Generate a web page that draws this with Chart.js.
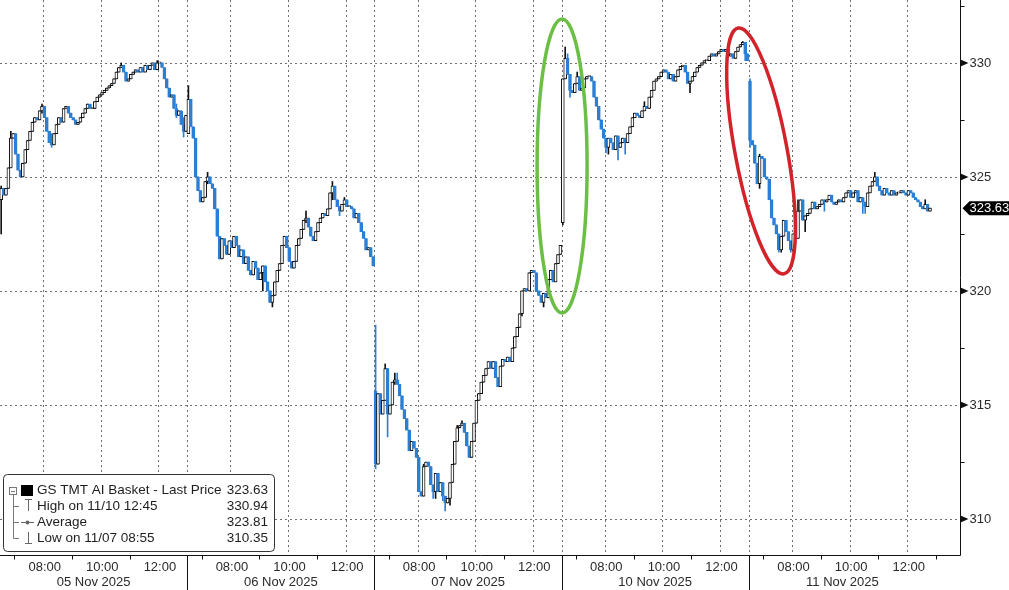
<!DOCTYPE html>
<html>
<head>
<meta charset="utf-8">
<script src="https://cdn.jsdelivr.net/npm/chart.js@4.4.0/dist/chart.umd.min.js"></script>
<style>
  html, body { margin: 0; padding: 0; background: #fff; }
  #wrap { position: relative; width: 1009px; height: 590px; }
</style>
</head>
<body>
<div id="wrap"><canvas id="chart"></canvas></div>
<script>
// 5-minute bars, 06:30-13:00 each session (78 bars)
const days = ["05 Nov 2025", "06 Nov 2025", "07 Nov 2025", "10 Nov 2025", "11 Nov 2025"]
const barsPerDay = 78
const totalSlots = 400

const timeLabels = ["08:00", "10:00", "12:00"]
const timeLabelBars = [18, 42, 66]
const oddHourBars = [6, 30, 54, 78]

const yTicks = [310, 315, 320, 325, 330]
const yMinorTicks = [312.5, 317.5, 322.5, 327.5, 332.5]
const lastPrice = 323.63

const dayOpen = [324.0, 326.9, 315.6, 323.0, 329.2]

const nov05Close = [
  324.5, 324.2, 324.5, 325.4, 326.7, 326.9, 326.0, 325.3, 325.0, 325.6,
  326.2, 326.6, 327.0, 327.4, 327.6, 327.5, 327.9, 328.1, 327.6, 327.0,
  326.5, 326.4, 326.9, 327.3, 327.6, 327.4, 328.0, 328.1, 327.8, 327.6,
  327.5, 327.3, 327.4, 327.6, 327.8, 328.0, 328.2, 328.0, 328.0, 328.3,
  328.5, 328.6, 328.7, 328.8, 328.9, 329.0, 329.1, 329.3, 329.6, 329.8,
  329.9, 329.6, 329.2, 329.3, 329.5, 329.6, 329.7, 329.6, 329.8, 329.6,
  329.9, 329.7, 329.9, 330.0, 329.7, 330.0, 330.0, 329.8, 329.3, 328.9,
  328.5, 328.6, 328.0, 327.7, 327.9, 327.3, 327.0, 327.7
]
const nov06Close = [
  328.4, 327.2, 326.7, 325.0, 324.4, 323.9, 324.1, 324.8, 325.0, 324.7,
  324.5, 323.6, 322.4, 321.4, 322.3, 322.0, 321.6, 322.2, 321.9, 322.4,
  322.0, 321.5, 321.8, 321.2, 321.5, 320.9, 320.7, 321.3, 321.0, 320.5,
  320.8, 321.1, 320.4, 320.0, 319.5, 319.8, 320.4, 320.9, 321.2, 322.0,
  322.4, 321.9, 321.3, 321.0, 321.3, 322.0, 322.3, 322.7, 323.1, 323.2,
  322.8, 322.4, 322.2, 322.6, 323.0, 323.2, 323.4, 323.3, 323.6, 324.3,
  324.6, 324.0, 323.7, 323.5, 323.8, 324.0, 323.7, 323.7, 323.6, 323.2,
  323.4, 323.0, 322.6, 322.3, 321.8, 321.9, 321.5, 321.1
]
const nov07Close = [
  312.4, 315.5, 314.6, 315.2, 316.6, 314.6, 315.0, 316.0, 316.1, 315.9,
  315.4, 314.8, 314.4, 313.9, 313.0, 313.4, 313.1, 312.7, 311.2, 311.0,
  312.3, 312.5, 312.3, 311.5, 311.2, 312.0, 311.2, 311.6, 311.0, 310.7,
  310.9, 311.6, 312.4, 313.4, 314.0, 314.1, 314.2, 313.8, 313.2, 312.7,
  313.4, 314.2, 315.2, 315.5, 316.0, 316.3, 316.6, 316.9, 316.6, 316.9,
  316.2, 315.8, 316.7, 317.0, 316.9, 317.1, 316.9, 317.5, 318.0, 318.4,
  319.0, 320.0, 320.1, 320.0, 320.8, 320.9, 320.8, 320.0, 319.8, 319.5,
  319.9, 319.7, 320.5, 320.9, 320.4, 321.2, 321.6, 322.0
]
const nov10Close = [
  329.3, 330.2, 329.5, 328.8, 328.7, 329.1, 329.4, 328.8, 328.9, 329.3,
  329.4, 329.4, 329.2, 328.5, 328.1, 327.5, 327.1, 326.7, 326.3, 326.7,
  326.5, 326.2, 326.8, 326.3, 326.5, 326.7, 326.5, 326.9, 327.2, 327.6,
  327.8, 327.7, 327.6, 327.9, 328.1, 328.0, 328.5, 328.8, 329.2, 329.3,
  329.4, 329.6, 329.7, 329.6, 329.3, 329.5, 329.2, 329.4, 329.7, 329.85,
  329.9, 329.6, 329.1, 329.2, 329.4, 329.6, 329.8, 329.9, 330.0, 330.1,
  330.1, 330.3, 330.4, 330.3, 330.4, 330.5, 330.6, 330.5, 330.6, 330.3,
  330.4, 330.2, 330.5, 330.7, 330.8, 330.9, 330.4, 330.1
]
const nov11Close = [
  326.6, 326.4, 325.6, 324.7, 325.9, 325.8, 325.0, 324.9, 324.0, 323.2,
  322.9, 322.5, 321.8, 322.4, 323.1, 322.6, 322.2, 321.8, 322.5, 322.3,
  323.5, 324.0, 323.1, 323.3, 323.4, 323.6, 323.9, 323.6, 323.7, 323.8,
  324.0, 323.9, 324.0, 324.2, 323.9, 323.8, 323.9, 324.0, 323.9, 324.1,
  324.3, 324.4, 324.1, 324.3, 324.4, 323.9, 324.1, 323.9, 323.7, 324.3,
  324.6, 324.8, 325.0, 324.6, 324.4, 324.2, 324.5, 324.3, 324.2, 324.4,
  324.2, 324.3, 324.3, 324.4, 324.3, 324.2, 324.4, 324.3, 324.1, 324.0,
  323.9, 323.7, 323.6, 323.8, 323.5, 323.63
]

// visible wicks: [day, bar, low, high]
const wickExtremes = [
  [0, 0, 322.5, 324.6], [0, 4, 326.0, 327.0], [0, 17, 327.8, 328.2], [0, 21, 326.3, 326.9],
  [0, 50, 329.8, 330.0], [0, 65, 329.8, 330.1], [0, 73, 327.6, 328.2], [0, 76, 326.75, 327.6],
  [1, 0, 326.9, 329.0], [1, 8, 324.7, 325.2], [1, 31, 320.0, 321.1], [1, 35, 319.3, 319.8],
  [1, 49, 323.0, 323.5], [1, 60, 324.0, 324.8], [1, 63, 323.3, 323.7], [1, 65, 323.8, 324.1],
  [2, 0, 312.2, 318.5], [2, 4, 315.2, 316.8], [2, 5, 313.6, 316.6], [2, 8, 315.9, 316.4],
  [2, 9, 315.9, 316.4], [2, 20, 311.0, 312.4], [2, 24, 310.9, 311.5], [2, 25, 310.9, 312.0],
  [2, 28, 310.8, 311.6], [2, 29, 310.35, 311.0], [2, 31, 310.6, 311.6], [2, 34, 313.4, 314.1],
  [2, 36, 314.1, 314.3], [2, 61, 318.9, 320.0], [2, 70, 319.3, 319.9],
  [3, 0, 322.9, 329.3], [3, 1, 329.3, 330.7], [3, 2, 329.5, 330.4], [3, 3, 328.5, 329.5],
  [3, 6, 329.1, 329.6], [3, 18, 326.05, 326.7], [3, 19, 326.0, 326.7], [3, 23, 325.75, 326.8],
  [3, 26, 326.0, 326.7], [3, 34, 327.9, 328.3], [3, 53, 328.7, 329.2], [3, 75, 330.8, 330.94],
  [3, 76, 330.1, 330.7],
  [4, 0, 326.3, 329.3], [4, 4, 324.5, 326.0], [4, 12, 321.7, 322.5], [4, 13, 321.7, 322.4],
  [4, 17, 321.7, 322.2], [4, 20, 322.3, 324.0], [4, 23, 322.6, 323.3], [4, 31, 323.5, 324.0],
  [4, 47, 323.4, 324.1], [4, 48, 323.4, 323.9], [4, 52, 324.8, 325.2], [4, 73, 323.6, 324.0]
]

const legendRows = [
  ["GS TMT AI Basket - Last Price", "323.63"],
  ["High on 11/10 12:45", "330.94"],
  ["Average", "323.81"],
  ["Low on 11/07 08:55", "310.35"]
]

const closes = [nov05Close, nov06Close, nov07Close, nov10Close, nov11Close]

const UP_LINE = "#111111"
const DOWN = "#2b7fd4"
const FONT = '"Liberation Sans", Arial, sans-serif'

const labels = []
const bodyData = []
const wickData = []
const bodyFill = []
const bodyLine = []
const wickColor = []

const extra = {}
wickExtremes.forEach(([d, b, lo, hi]) => { extra[d + "-" + b] = [lo, hi] })

for (let s = 0; s < totalSlots; s++) {
  labels.push(String(s))
  bodyData.push(null)
  wickData.push(null)
  bodyFill.push("#fff")
  bodyLine.push(UP_LINE)
  wickColor.push(UP_LINE)
}

closes.forEach((day, d) => {
  day.forEach((c, i) => {
    const s = d * barsPerDay + i
    const o = i === 0 ? dayOpen[d] : day[i - 1]
    let lo = Math.min(o, c), hi = Math.max(o, c)
    const w = extra[d + "-" + i]
    if (w) { lo = Math.min(lo, w[0]); hi = Math.max(hi, w[1]) }
    bodyData[s] = [o, c]
    wickData[s] = [lo, hi]
    const up = c >= o
    bodyFill[s] = up ? "#ffffff" : DOWN
    bodyLine[s] = up ? UP_LINE : DOWN
    wickColor[s] = up ? UP_LINE : DOWN
  })
})

const decor = {
  id: "decor",
  beforeDatasetsDraw(chart) {
    const { ctx, chartArea: a, scales: { x, y } } = chart
    const step = x.getPixelForValue(1) - x.getPixelForValue(0)
    const edge = (slot) => x.getPixelForValue(0) - step / 2 + slot * step

    ctx.save()
    ctx.strokeStyle = "#707070"
    ctx.lineWidth = 1
    ctx.setLineDash([2, 3])
    yTicks.forEach(v => {
      const py = Math.round(y.getPixelForValue(v)) + 0.5
      ctx.beginPath(); ctx.moveTo(a.left, py); ctx.lineTo(a.right, py); ctx.stroke()
    })
    days.forEach((_, d) => {
      const xs = timeLabelBars.map(b => edge(d * barsPerDay + b))
      if (d > 0) xs.push(edge(d * barsPerDay))
      xs.forEach(px => {
        px = Math.round(px) + 0.5
        ctx.beginPath(); ctx.moveTo(px, a.top); ctx.lineTo(px, a.bottom); ctx.stroke()
      })
    })
    ctx.restore()
  },
  afterDraw(chart) {
    const { ctx, chartArea: a, scales: { x, y } } = chart
    const step = x.getPixelForValue(1) - x.getPixelForValue(0)
    const edge = (slot) => x.getPixelForValue(0) - step / 2 + slot * step
    const W = chart.width, H = chart.height

    ctx.save()

    // annotation ellipses
    ctx.lineWidth = 3.5
    ctx.strokeStyle = "#6cbf45"
    ctx.beginPath()
    ctx.ellipse(edge(3 * barsPerDay) + 0.5, y.getPixelForValue(325.48), 25, 147, 0, 0, Math.PI * 2)
    ctx.stroke()
    ctx.strokeStyle = "#d2232a"
    ctx.beginPath()
    ctx.ellipse(edge(317.1), y.getPixelForValue(326.14), 125, 26, 1.386, 0, Math.PI * 2)
    ctx.stroke()

    // axes
    ctx.strokeStyle = "#111"
    ctx.lineWidth = 1
    const bx = Math.round(a.bottom) + 0.5
    ctx.beginPath(); ctx.moveTo(a.left, bx); ctx.lineTo(a.right + 0.5, bx); ctx.stroke()
    const rx = Math.round(a.right) + 0.5
    ctx.beginPath(); ctx.moveTo(rx, 0); ctx.lineTo(rx, bx); ctx.stroke()

    // x axis: separators, odd-hour ticks, labels
    ctx.fillStyle = "#2a2a2a"
    ctx.font = "13px " + FONT
    ctx.textAlign = "center"
    ctx.textBaseline = "middle"
    days.forEach((label, d) => {
      const start = d * barsPerDay
      if (d > 0) {
        const px = Math.round(edge(start)) + 0.5
        ctx.beginPath(); ctx.moveTo(px, bx); ctx.lineTo(px, H); ctx.stroke()
      }
      oddHourBars.forEach(b => {
        if (b === barsPerDay && d < days.length - 1) return
        const px = Math.round(edge(start + b)) + 0.5
        ctx.beginPath(); ctx.moveTo(px, bx); ctx.lineTo(px, bx + 4); ctx.stroke()
      })
      timeLabels.forEach((t, k) => {
        ctx.fillText(t, edge(start + timeLabelBars[k]) + 1.5, 567)
      })
      ctx.fillText(label, edge(start + barsPerDay / 2), 582)
    })

    // y axis ticks and labels
    ctx.textAlign = "left"
    ctx.fillStyle = "#111"
    yMinorTicks.forEach(v => {
      const py = Math.round(y.getPixelForValue(v)) + 0.5
      ctx.beginPath(); ctx.moveTo(rx, py); ctx.lineTo(rx + 4, py); ctx.stroke()
    })
    yTicks.forEach(v => {
      const py = y.getPixelForValue(v)
      ctx.fillStyle = "#111"
      ctx.beginPath()
      ctx.moveTo(rx, py - 3.5); ctx.lineTo(rx + 8, py); ctx.lineTo(rx, py + 3.5); ctx.closePath()
      ctx.fill()
      ctx.fillStyle = "#2a2a2a"
      ctx.fillText(String(v), rx + 9, py + 0.5)
    })

    // last price tag
    const ly = y.getPixelForValue(lastPrice)
    ctx.fillStyle = "#000"
    ctx.beginPath()
    ctx.moveTo(rx + 2, ly)
    ctx.lineTo(rx + 9, ly - 7)
    ctx.lineTo(W, ly - 7)
    ctx.lineTo(W, ly + 7)
    ctx.lineTo(rx + 9, ly + 7)
    ctx.closePath()
    ctx.fill()
    ctx.fillStyle = "#fff"
    ctx.fillText(lastPrice.toFixed(2), rx + 9, ly + 0.5)

    // legend box
    const boxX = 3.5, boxY = 474.5, boxW = 271, boxH = 77
    ctx.fillStyle = "#fff"
    ctx.strokeStyle = "#333"
    ctx.beginPath()
    ctx.roundRect(boxX, boxY, boxW, boxH, 4)
    ctx.fill()
    ctx.stroke()

    const rowY = [490.5, 506, 522, 538]
    ctx.strokeStyle = "#777"
    ctx.strokeRect(9.5, 487.5, 7, 7)
    ctx.beginPath(); ctx.moveTo(11, 491.5); ctx.lineTo(15, 491.5); ctx.stroke()
    ctx.beginPath(); ctx.moveTo(13.5, 495); ctx.lineTo(13.5, rowY[3] + 0.5); ctx.stroke()
    rowY.slice(1).forEach(r => {
      ctx.beginPath(); ctx.moveTo(13.5, Math.round(r) + 0.5); ctx.lineTo(19, Math.round(r) + 0.5); ctx.stroke()
    })
    ctx.fillStyle = "#000"
    ctx.fillRect(21, 485, 12, 11)

    ctx.strokeStyle = "#666"
    ctx.beginPath()
    ctx.moveTo(25, 499.5); ctx.lineTo(32, 499.5)
    ctx.moveTo(28.5, 499.5); ctx.lineTo(28.5, 511)
    ctx.moveTo(21, 522.5); ctx.lineTo(34, 522.5)
    ctx.moveTo(28.5, 532); ctx.lineTo(28.5, 543.5)
    ctx.moveTo(25, 543.5); ctx.lineTo(32, 543.5)
    ctx.stroke()
    ctx.fillStyle = "#666"
    ctx.beginPath(); ctx.arc(27.5, 522.5, 2, 0, Math.PI * 2); ctx.fill()

    ctx.font = "13.5px " + FONT
    ctx.fillStyle = "#1e1e1e"
    legendRows.forEach(([name, val], k) => {
      ctx.textAlign = "left"
      ctx.fillText(name, 37, rowY[k])
      ctx.textAlign = "right"
      ctx.fillText(val, 268, rowY[k])
    })

    ctx.restore()
  }
}

const ctx = document.getElementById("chart").getContext("2d")
new Chart(ctx, {
  type: "bar",
  data: {
    labels: labels,
    datasets: [
      {
        label: "body",
        data: bodyData,
        backgroundColor: bodyFill,
        borderColor: bodyLine,
        borderWidth: 1,
        borderSkipped: false,
        barThickness: 3,
        minBarLength: 1,
        grouped: false,
        order: 1
      },
      {
        label: "wick",
        data: wickData,
        backgroundColor: wickColor,
        borderWidth: 0,
        barThickness: 1,
        grouped: false,
        order: 2
      }
    ]
  },
  options: {
    responsive: true,
    maintainAspectRatio: false,
    animation: false,
    layout: { padding: { top: 0, left: 0, right: 49, bottom: 35 } },
    plugins: {
      legend: { display: false },
      tooltip: { enabled: false }
    },
    scales: {
      x: { display: false, offset: true, grid: { display: false } },
      y: { display: false, min: 308.42, max: 332.76 }
    }
  },
  plugins: [decor]
})
</script>
</body>
</html>
